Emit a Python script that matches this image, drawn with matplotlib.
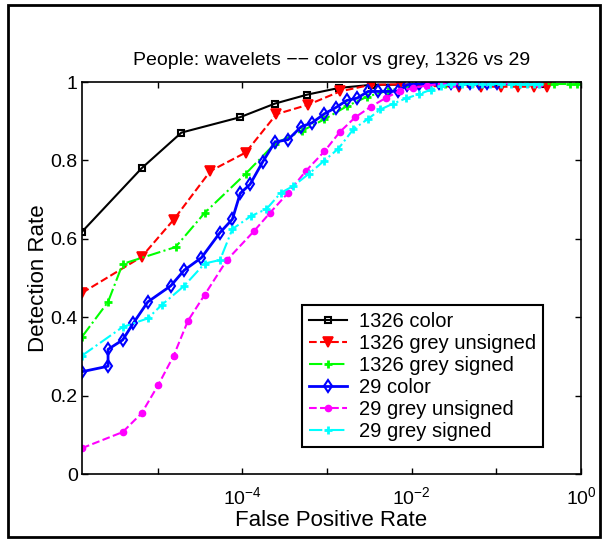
import matplotlib
matplotlib.use("Agg")
import matplotlib.pyplot as plt
from matplotlib.patches import Rectangle

plt.rcParams['font.family'] = ['Liberation Sans', 'DejaVu Sans']
plt.rcParams['mathtext.fontset'] = 'custom'
plt.rcParams['mathtext.rm'] = 'Liberation Sans'
plt.rcParams['mathtext.it'] = 'Liberation Sans'
plt.rcParams['mathtext.sf'] = 'Liberation Sans'

# ROC data (false positive rate, detection rate)
c1326_fpr = [1.27e-6, 6.43e-6, 1.90e-5, 9.3e-5, 2.42e-4, 5.85e-4, 1.39e-3, 3.39e-3, 0.363]
c1326_det = [0.618, 0.780, 0.871, 0.910, 0.945, 0.968, 0.985, 0.993, 0.994]

gu1326_fpr = [1.27e-6, 6.43e-6, 1.54e-5, 4.18e-5, 1.09e-4, 2.52e-4, 5.97e-4, 1.42e-3,
              3.28e-3, 7.2e-3, 1.58e-2, 3.6e-2, 6.5e-2, 0.112, 0.182, 0.275, 0.40]
gu1326_det = [0.462, 0.554, 0.649, 0.773, 0.820, 0.918, 0.942, 0.976,
              0.993, 0.994, 0.990, 0.988, 0.988, 0.988, 0.988, 0.988, 0.988]

gs1326_fpr = [1.27e-6, 2.58e-6, 3.84e-6, 1.62e-5, 3.57e-5, 1.09e-4, 2.42e-4, 5.0e-4,
              9.3e-4, 1.70e-3, 3.0e-3, 5.25e-3, 1.0e-2, 2.5e-2, 0.48, 0.74, 0.89]
gs1326_det = [0.350, 0.439, 0.536, 0.579, 0.666, 0.766, 0.843, 0.875,
              0.905, 0.938, 0.963, 0.978, 0.990, 0.995, 0.995, 0.995, 0.995]

c29_fpr = [1.27e-6, 2.58e-6, 2.58e-6, 3.84e-6, 5.1e-6, 7.6e-6, 1.42e-5, 2.05e-5, 3.28e-5,
           5.43e-5, 7.6e-5, 9.4e-5, 1.23e-4, 1.73e-4, 2.42e-4, 3.46e-4, 4.94e-4, 6.64e-4,
           9.29e-4, 1.27e-3, 1.71e-3, 2.27e-3, 3.05e-3, 4.05e-3, 5.26e-3, 6.86e-3, 8.9e-3,
           1.22e-2, 1.6e-2, 2.1e-2, 2.88e-2, 3.6e-2, 4.95e-2, 6.2e-2, 7.8e-2, 0.102]
c29_det = [0.261, 0.275, 0.318, 0.342, 0.384, 0.439, 0.480, 0.520, 0.552,
           0.616, 0.650, 0.716, 0.739, 0.796, 0.847, 0.853, 0.886, 0.896,
           0.919, 0.935, 0.953, 0.959, 0.976, 0.976, 0.976, 0.977, 0.993,
           0.995, 0.997, 0.997, 0.997, 0.997, 0.997, 0.997, 0.997, 0.997]

gu29_fpr = [1.27e-6, 3.84e-6, 6.43e-6, 1.01e-5, 1.54e-5, 2.27e-5, 3.57e-5, 6.56e-5,
            1.36e-4, 2.13e-4, 3.42e-4, 5.66e-4, 9.29e-4, 1.42e-3, 2.15e-3, 3.28e-3,
            5.0e-3, 7.2e-3, 1.04e-2, 1.51e-2, 2.19e-2, 3.0e-2, 0.316]
gu29_det = [0.066, 0.107, 0.155, 0.227, 0.302, 0.391, 0.457, 0.546,
            0.619, 0.667, 0.716, 0.774, 0.823, 0.873, 0.910, 0.937,
            0.960, 0.977, 0.985, 0.991, 0.995, 0.996, 0.996]

gs29_fpr = [1.27e-6, 3.84e-6, 7.6e-6, 1.12e-5, 2.05e-5, 3.57e-5, 5.43e-5, 7.6e-5,
            1.26e-4, 1.92e-4, 2.83e-4, 4.0e-4, 6.1e-4, 9.1e-4, 1.36e-3, 2.05e-3,
            3.05e-3, 4.27e-3, 6.04e-3, 8.5e-3, 1.22e-2, 1.67e-2, 2.19e-2, 2.88e-2,
            3.98e-2, 5.1e-2, 6.8e-2, 8.5e-2, 0.112, 0.148, 0.19, 0.229, 0.275, 0.316]
gs29_det = [0.302, 0.375, 0.397, 0.432, 0.480, 0.537, 0.546, 0.625,
            0.658, 0.676, 0.717, 0.735, 0.766, 0.798, 0.830, 0.880,
            0.906, 0.930, 0.945, 0.958, 0.969, 0.980, 0.989, 0.995,
            0.995, 0.995, 0.995, 0.995, 0.995, 0.995, 0.995, 0.995, 0.995, 0.995]

fig = plt.figure(figsize=(6.07, 5.40), dpi=100)
ax = fig.add_axes([0.1351, 0.1222, 0.822, 0.7259])

ax.plot(c1326_fpr, c1326_det, '-', color='black', lw=1.5, marker='s', ms=5,
        mfc='none', mew=1.5, label='1326 color')
ax.plot(gu1326_fpr, gu1326_det, '--', color='red', lw=1.5, marker='v', ms=7,
        mfc='red', mew=1.2, label='1326 grey unsigned')
ax.plot(gs1326_fpr, gs1326_det, '-.', color='#00ff00', lw=1.5, marker='+', ms=5.5,
        mew=2, label='1326 grey signed')
ax.plot(c29_fpr, c29_det, '-', color='blue', lw=2, marker='d', ms=6,
        mfc='none', mew=1.5, label='29 color')
ax.plot(gu29_fpr, gu29_det, '--', color='magenta', lw=1.5, marker='o', ms=4.5,
        mfc='magenta', mec='magenta', label='29 grey unsigned')
ax.plot(gs29_fpr, gs29_det, '-.', color='cyan', lw=1.5, marker='+', ms=5.5,
        mew=2, label='29 grey signed')

ax.set_xscale('log')
ax.set_xlim(1.27e-6, 1.0)
ax.set_ylim(0, 1)
ax.set_xticks([1e-5, 1e-4, 1e-3, 1e-2, 1e-1, 1e0])
ax.set_xticklabels(['', r'$10^{-4}$', '', r'$10^{-2}$', '', r'$10^{0}$'])
ax.xaxis.set_minor_locator(matplotlib.ticker.NullLocator())
ax.set_yticks([0, 0.2, 0.4, 0.6, 0.8, 1])
ax.set_yticklabels(['0', '0.2', '0.4', '0.6', '0.8', '1'])
ax.tick_params(direction='in', top=True, right=True, length=4, width=1,
               labelsize=14, pad=3)
ax.tick_params(axis='x', pad=9)
for s in ax.spines.values():
    s.set_linewidth(1.2)

ax.set_title('People: wavelets \u2212\u2212 color vs grey, 1326 vs 29', fontsize=14, pad=12)
ax.set_xlabel('False Positive Rate', fontsize=16, labelpad=1)
ax.set_ylabel('Detection Rate', fontsize=16, labelpad=1)

leg = ax.legend(loc='upper left', bbox_to_anchor=(0.441, 0.431), borderaxespad=0,
                fontsize=14.5, fancybox=False, edgecolor='black', framealpha=1,
                labelspacing=0.15, handlelength=1.9, handletextpad=0.6,
                borderpad=0.33)
leg.get_frame().set_linewidth(1.5)

fig.patches.append(Rectangle((8 / 607, 3 / 540), 592 / 607, 532 / 540, fill=False,
                             lw=2, edgecolor='black', transform=fig.transFigure))

fig.savefig('out.png', dpi=100)
